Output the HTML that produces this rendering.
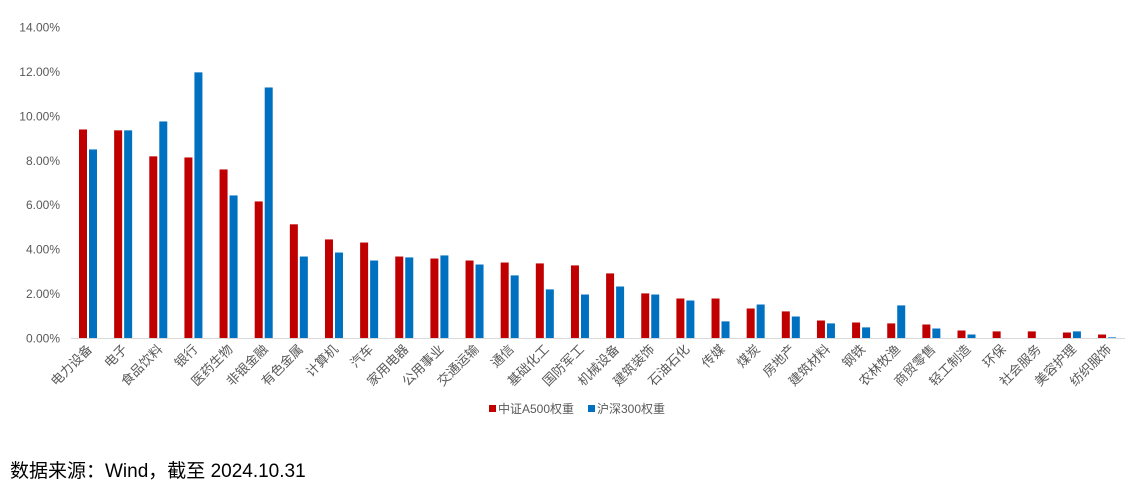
<!DOCTYPE html>
<html><head><meta charset="utf-8"><style>
body{margin:0;background:#fff;}
svg{display:block;font-family:"Liberation Sans","Noto Sans CJK SC",sans-serif;}
</style></head><body>
<svg id="chart" width="1147" height="487">
<g id="yaxis"></g>
<g id="bars"></g>
<g id="xaxis"></g>
<g>
<rect x="489" y="405" width="7" height="7" fill="#C00000"/>
<text x="498" y="413" font-size="12" fill="#595959">中证A500权重</text>
<rect x="588" y="405" width="7" height="7" fill="#0070C0"/>
<text x="597" y="413" font-size="12" fill="#595959">沪深300权重</text>
</g>
<text x="10" y="477" font-size="19" fill="#000">数据来源：Wind，截至 2024.10.31</text>
</svg>
<script>
const categories=["电力设备","电子","食品饮料","银行","医药生物","非银金融","有色金属","计算机","汽车","家用电器","公用事业","交通运输","通信","基础化工","国防军工","机械设备","建筑装饰","石油石化","传媒","煤炭","房地产","建筑材料","钢铁","农林牧渔","商贸零售","轻工制造","环保","社会服务","美容护理","纺织服饰"];
const a500=[9.41,9.37,8.2,8.15,7.61,6.17,5.14,4.46,4.32,3.69,3.6,3.51,3.42,3.38,3.29,2.93,2.03,1.8,1.8,1.35,1.22,0.81,0.72,0.68,0.63,0.36,0.32,0.32,0.27,0.18];
const hs300=[8.51,9.37,9.77,11.98,6.44,11.3,3.69,3.87,3.51,3.65,3.74,3.33,2.84,2.21,1.98,2.34,1.98,1.71,0.77,1.53,0.99,0.68,0.5,1.49,0.45,0.18,0,0,0.32,0.05];
const yTicks=[0,2,4,6,8,10,12,14];
const NS="http://www.w3.org/2000/svg";
const y0=338.5,yTop=27.5,yMax=14;
const yS=v=>y0-(y0-yTop)*v/yMax;
const x0=88,step=35.14;
const xC=i=>x0+i*step;
function mk(t,at,parent){const e=document.createElementNS(NS,t);for(const k in at)e.setAttribute(k,at[k]);parent.appendChild(e);return e;}
const ya=document.getElementById('yaxis'),ba=document.getElementById('bars'),xa=document.getElementById('xaxis');
yTicks.forEach(v=>{
 const t=mk('text',{x:60,y:yS(v)+4,'text-anchor':'end','font-size':12,fill:'#595959'},ya);
 
 
 t.textContent=v.toFixed(2)+'%';
});
const ax=mk('line',{x1:71,x2:1125,y1:y0,y2:y0,stroke:'#d9d9d9','stroke-width':1},xa);


categories.forEach((c,i)=>{
 const cx=xC(i);
 const r=mk('rect',{x:cx-9,y:yS(a500[i]),width:8,height:y0-yS(a500[i]),fill:'#C00000'},ba);
 
 
 const b=mk('rect',{x:cx+1,y:yS(hs300[i]),width:8,height:y0-yS(hs300[i]),fill:'#0070C0'},ba);
 
 
 const t=mk('text',{x:cx+5,y:350,'text-anchor':'end','font-size':13,fill:'#595959',transform:`rotate(-45 ${cx+5} 350)`},xa);
 
 
 t.textContent=c;
});
</script>
</body></html>
